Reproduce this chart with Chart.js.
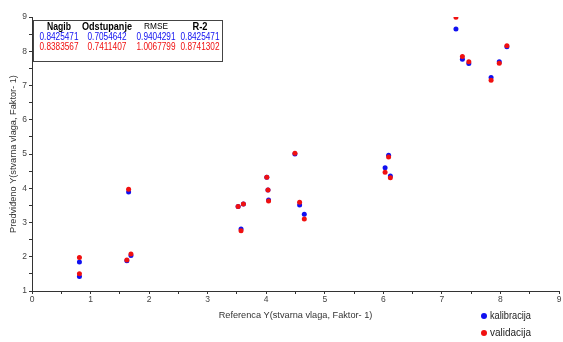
<!DOCTYPE html>
<html>
<head>
<meta charset="utf-8">
<script src="https://cdn.jsdelivr.net/npm/chart.js@4/dist/chart.umd.min.js"></script>
<style>
  html, body { margin: 0; padding: 0; background: #fff; }
  #wrap { width: 563px; height: 342px; }
</style>
</head>
<body>
<div id="wrap"><canvas id="chart" width="563" height="342"></canvas></div>
<script>
"use strict";

// ---------- Data ----------
const refX = [0.81, 0.81, 1.65, 1.62, 1.69, 3.52, 3.61, 3.57, 4.01, 4.03, 4.04, 4.49,
  4.57, 4.65, 6.03, 6.09, 6.12, 7.24, 7.35, 7.46, 7.84, 7.98, 8.11];
const kalibracija = [1.85, 1.42, 3.89, 1.88, 2.04, 3.47, 3.54, 2.81, 4.32, 3.95, 3.66, 5.0,
  3.51, 3.24, 4.60, 4.96, 4.36, 8.65, 7.77, 7.64, 7.23, 7.69, 8.13];
const validacija = [1.98, 1.505, 3.97, 1.905, 2.08, 3.47, 3.54, 2.76, 4.32, 3.95, 3.63, 5.02,
  3.59, 3.10, 4.47, 4.91, 4.31, 8.99, 7.85, 7.69, 7.15, 7.65, 8.16];

const seriesNames = ["kalibracija", "validacija"];
const statHeaders = ["Nagib", "Odstupanje", "RMSE", "R-2"];
const statsKal = ["0.8425471", "0.7054642", "0.9404291", "0.8425471"];
const statsVal = ["0.8383567", "0.7411407", "1.0067799", "0.8741302"];

const xTitle = "Referenca Y(stvarna vlaga, Faktor- 1)";
const yTitle = "Predviđeno Y(stvarna vlaga, Faktor- 1)";

const BLUE = "#1010f0";
const RED = "#f01010";

function toPoints(xs, ys) {
  return xs.map((x, i) => ({ x, y: ys[i] }));
}

// ---------- Plugins ----------
const statsTable = {
  id: "statsTable",
  afterDraw(chart) {
    const ctx = chart.ctx;
    const left = 33, top = 20, right = 222, bottom = 61;
    const centers = [59, 107, 156, 200];
    const headerWidths = [24, 50, 24, 15];
    ctx.save();
    ctx.fillStyle = "#fff";
    ctx.fillRect(left, top, right - left, bottom - top);
    ctx.strokeStyle = "#444";
    ctx.lineWidth = 1;
    ctx.strokeRect(left + 0.5, top + 0.5, right - left, bottom - top);
    ctx.textAlign = "center";
    ctx.textBaseline = "middle";
    statHeaders.forEach((h, i) => {
      ctx.fillStyle = "#000";
      ctx.font = h === "RMSE" ? "9px 'Liberation Sans'" : "bold 11px 'Liberation Sans'";
      ctx.fillText(h, centers[i], 27, headerWidths[i]);
    });
    ctx.font = "10.5px 'Liberation Sans'";
    statsKal.forEach((v, i) => {
      ctx.fillStyle = BLUE;
      ctx.fillText(v, centers[i], 37, 39);
    });
    statsVal.forEach((v, i) => {
      ctx.fillStyle = RED;
      ctx.fillText(v, centers[i], 47, 39);
    });
    ctx.restore();
  }
};

const sideLegend = {
  id: "sideLegend",
  afterDraw(chart) {
    const ctx = chart.ctx;
    ctx.save();
    ctx.font = "10px 'Liberation Sans'";
    ctx.textBaseline = "middle";
    ctx.textAlign = "left";
    chart.data.datasets.forEach((ds, i) => {
      const y = 316 + i * 17;
      ctx.fillStyle = ds.backgroundColor;
      ctx.beginPath();
      ctx.arc(484, y, 3, 0, Math.PI * 2);
      ctx.fill();
      ctx.fillStyle = "#222";
      ctx.fillText(ds.label, 490, y, 41);
    });
    ctx.restore();
  }
};

// ---------- Chart ----------
const tickFont = { family: "'Liberation Sans'", size: 8.5 };
const titleFont = { family: "'Liberation Sans'", size: 9.2 };

new Chart(document.getElementById("chart"), {
  type: "scatter",
  data: {
    datasets: [
      {
        label: seriesNames[0],
        data: toPoints(refX, kalibracija),
        backgroundColor: BLUE,
        borderWidth: 0,
        pointRadius: 2.5,
        order: 1
      },
      {
        label: seriesNames[1],
        data: toPoints(refX, validacija),
        backgroundColor: RED,
        borderWidth: 0,
        pointRadius: 2.5,
        order: 0
      }
    ]
  },
  options: {
    responsive: false,
    animation: false,
    layout: { padding: { top: 17, right: 4, left: 0, bottom: 0 } },
    plugins: {
      legend: { display: false },
      tooltip: { enabled: false }
    },
    scales: {
      x: {
        type: "linear",
        min: 0,
        max: 9,
        border: { display: true, color: "#333", width: 1 },
        grid: { drawOnChartArea: false, drawTicks: true, tickLength: 3, color: "#333" },
        ticks: {
          stepSize: 0.5,
          autoSkip: false,
          maxRotation: 0,
          padding: 1,
          color: "#444",
          font: tickFont,
          callback: v => (Number.isInteger(v) ? String(v) : "")
        },
        title: {
          display: true,
          text: xTitle,
          color: "#333",
          font: titleFont,
          padding: { top: 4, bottom: 21 }
        },
        afterFit(scale) { scale.height = 51; }
      },
      y: {
        type: "linear",
        min: 1,
        max: 9,
        border: { display: true, color: "#333", width: 1 },
        grid: { drawOnChartArea: false, drawTicks: true, tickLength: 3, color: "#333" },
        ticks: {
          stepSize: 0.5,
          autoSkip: false,
          padding: 2,
          color: "#444",
          font: tickFont,
          callback: v => (Number.isInteger(v) ? String(v) : "")
        },
        title: {
          display: true,
          text: yTitle,
          color: "#333",
          font: titleFont,
          padding: { top: 8, bottom: 0 }
        },
        afterFit(scale) { scale.width = 32; }
      }
    }
  },
  plugins: [statsTable, sideLegend]
});
</script>
</body>
</html>
